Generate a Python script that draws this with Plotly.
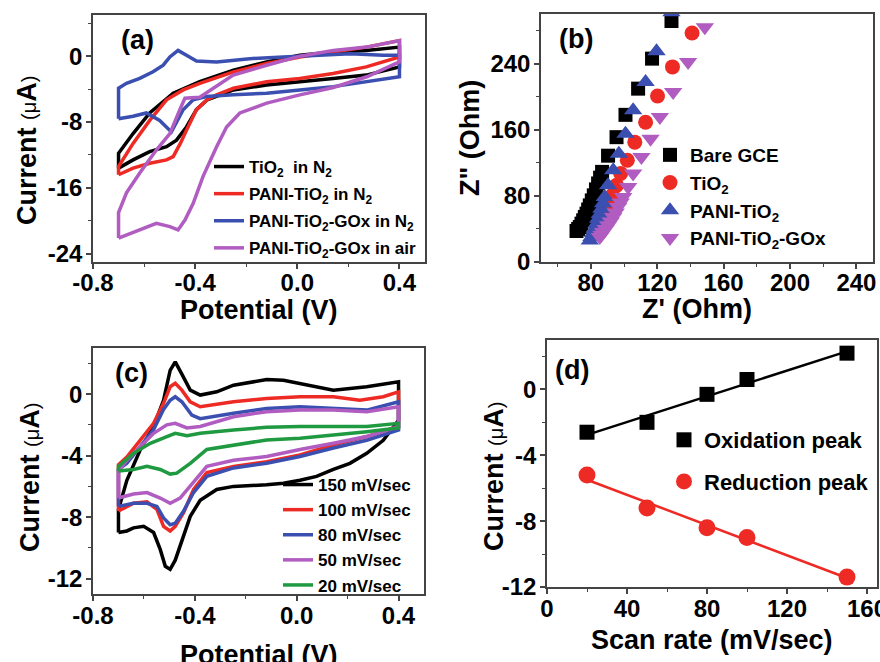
import plotly.graph_objects as go
import numpy as np

FONT = "Liberation Sans"
W, H = 880, 662

# ---------------- Panel (a): CV curves ----------------
a_names = ["TiO<sub>2</sub>  in N<sub>2</sub>", "PANI-TiO<sub>2</sub> in N<sub>2</sub>",
           "PANI-TiO<sub>2</sub>-GOx in N<sub>2</sub>", "PANI-TiO<sub>2</sub>-GOx in air"]
a_colors = ["#000000", "#ee2a24", "#3a4fb0", "#b05cc0"]

a_tio2_x = [-0.70, -0.70, -0.643, -0.578, -0.486, -0.382, -0.25, -0.12, 0.01, 0.14, 0.27, 0.40,
            0.40, 0.27, 0.14, 0.01, -0.12, -0.25, -0.353, -0.395, -0.434, -0.473, -0.512, -0.578, -0.643, -0.70]
a_tio2_y = [-13.6, -11.8, -9.4, -6.9, -4.5, -3.1, -1.7, -0.7, 0.1, 0.5, 0.7, 1.1,
            -1.3, -2.3, -2.7, -3.1, -3.5, -4.1, -5.3, -6.5, -8.6, -10.2, -11.0, -11.6, -12.6, -13.6]

a_pani_x = [-0.70, -0.70, -0.643, -0.578, -0.512, -0.447, -0.382, -0.25, -0.12, 0.01, 0.14, 0.27, 0.40,
            0.40, 0.27, 0.14, 0.01, -0.12, -0.25, -0.316, -0.353, -0.395, -0.434, -0.458, -0.486, -0.512, -0.578, -0.643, -0.70]
a_pani_y = [-14.4, -13.4, -10.6, -7.8, -5.3, -4.1, -3.3, -1.9, -0.9, -0.1, 0.5, 1.1, 1.9,
            -0.1, -1.3, -2.1, -2.7, -3.1, -3.9, -4.7, -5.3, -6.5, -9.0, -10.6, -12.2, -12.6, -13.0, -13.6, -14.4]

a_goxn2_x = [-0.70, -0.70, -0.669, -0.617, -0.565, -0.525, -0.499, -0.467, -0.434, -0.395, -0.316, -0.186, -0.055,
             0.076, 0.207, 0.337, 0.40, 0.40, 0.275, 0.141, 0.01, -0.12, -0.251, -0.356, -0.408, -0.447, -0.493,
             -0.539, -0.591, -0.643, -0.70]
a_goxn2_y = [-7.6, -3.9, -3.3, -2.7, -1.9, -1.1, -0.1, 0.7, 0.1, -0.6, -0.7, -0.3, -0.1,
             0.1, 0.3, 0.1, 0.1, -2.5, -3.1, -3.7, -4.1, -4.5, -4.7, -4.9, -5.3, -6.5, -9.2,
             -7.8, -6.9, -7.3, -7.6]

a_goxair_x = [-0.70, -0.70, -0.669, -0.617, -0.552, -0.499, -0.46, -0.44, -0.382, -0.316, -0.251, -0.12, 0.01,
              0.141, 0.272, 0.40, 0.40, 0.272, 0.141, 0.01, -0.12, -0.225, -0.277, -0.316, -0.369, -0.408,
              -0.44, -0.467, -0.499, -0.552, -0.617, -0.669, -0.70]
a_goxair_y = [-22.1, -19.0, -16.6, -14.2, -11.4, -9.4, -6.5, -5.1, -5.0, -3.7, -2.3, -1.1, 0.0,
              0.7, 1.1, 1.9, -0.7, -2.5, -3.8, -4.7, -5.7, -6.9, -8.6, -11.0, -14.6, -17.9,
              -19.9, -21.1, -20.7, -20.3, -21.1, -21.7, -22.1]

# ---------------- Panel (b): Nyquist ----------------
b_names = ["Bare GCE", "TiO<sub>2</sub>", "PANI-TiO<sub>2</sub>", "PANI-TiO<sub>2</sub>-GOx"]
b_colors = ["#000000", "#ee2a24", "#3a4fb0", "#b05cc0"]
b_symbols = ["square", "circle", "triangle-up", "triangle-down"]
b_bare_x = [71.4, 72.4, 73.4, 74.4, 75.4, 76.4, 77.4, 78.4, 79.4, 80.6, 81.8, 83.1, 84.4, 85.6, 86.8,
            90.4, 95.5, 100.9, 108.5, 116.9, 128.6]
b_bare_y = [37.5, 40, 42.3, 46.4, 50.4, 54.4, 58.5, 63.5, 68.5, 74.5, 80.6, 87.8, 95, 102, 109,
            128.6, 151, 178, 209.7, 246, 291.5]
b_tio2_x = [85.4, 86.6, 87.8, 89.0, 90.4, 91.7, 93.0, 95.5, 98.0, 102.0, 106.5, 113.0, 120.2, 129.2, 141.0]
b_tio2_y = [38, 44, 50, 57, 64, 71, 80.6, 92.7, 107, 123, 145, 169, 200.8, 236, 277]
b_pani_x = [79.4, 80.4, 81.4, 82.4, 83.4, 84.4, 85.4, 86.4, 87.4, 88.4, 90.4, 93.5, 96.9, 100.9, 105.5,
            113.0, 119.6, 128.6]
b_pani_y = [26, 30.2, 35, 40.3, 46, 52.4, 58, 64.5, 71, 78.6, 92.7, 111, 131, 155, 183.5,
            217.7, 255, 302]
b_gox_x = [85.4, 86.4, 87.4, 88.9, 90.4, 92.0, 93.5, 95.0, 96.5, 98.0, 99.5, 102.5, 105.5, 110.5, 116.0,
           121.6, 129.6, 138.6, 148.7]
b_gox_y = [30.2, 33, 36.3, 40, 44.4, 49, 54.4, 60, 66.5, 72, 78.6, 90.7, 107, 127, 149,
           175.4, 205.6, 242, 284]
b_sizes = [14, 15, 16, 16]

# ---------------- Panel (c): scan-rate CVs ----------------
c_names = ["150 mV/sec", "100 mV/sec", "80 mV/sec", "50 mV/sec", "20 mV/sec"]
c_colors = ["#000000", "#ee2a24", "#3a4fb0", "#b05cc0", "#1f9a40"]
c150_x = [-0.70, -0.70, -0.667, -0.614, -0.562, -0.523, -0.497, -0.477, -0.451, -0.418, -0.379, -0.314, -0.248,
          -0.118, -0.052, 0.013, 0.078, 0.144, 0.275, 0.40, 0.40, 0.34, 0.275, 0.209, 0.144, 0.078, 0.013,
          -0.052, -0.118, -0.248, -0.314, -0.379, -0.418, -0.451, -0.477, -0.497, -0.516, -0.536, -0.562,
          -0.601, -0.641, -0.667, -0.70]
c150_y = [-9.0, -7.5, -5.6, -3.6, -2.1, -0.4, 1.55, 2.1, 1.3, 0.26, -0.06, 0.15, 0.58,
          0.95, 0.9, 0.7, 0.48, 0.26, 0.48, 0.8, -1.7, -3.0, -3.85, -4.5, -4.9, -5.35, -5.6,
          -5.8, -5.9, -6.0, -6.2, -6.9, -7.95, -9.5, -10.8, -11.4, -11.2, -10.1, -9.0,
          -8.6, -8.7, -8.9, -9.0]
c100_x = [-0.70, -0.70, -0.667, -0.614, -0.562, -0.523, -0.497, -0.477, -0.451, -0.418, -0.379, -0.248, -0.118,
          0.013, 0.144, 0.248, 0.340, 0.40, 0.40, 0.275, 0.144, 0.013, -0.118, -0.248, -0.353, -0.405, -0.444,
          -0.477, -0.497, -0.523, -0.549, -0.588, -0.641, -0.70]
c100_y = [-7.6, -4.6, -4.1, -3.0, -1.9, -0.6, 0.48, 0.7, 0.26, -0.5, -0.82, -0.5, -0.28,
          -0.17, -0.17, -0.39, -0.17, 0.15, -2.1, -2.76, -3.3, -3.95, -4.4, -4.7, -5.1, -6.2, -7.7,
          -8.6, -8.9, -8.6, -7.5, -7.0, -7.1, -7.6]
c80_x = [-0.70, -0.70, -0.667, -0.614, -0.562, -0.523, -0.497, -0.477, -0.451, -0.412, -0.379, -0.248, -0.118,
         0.013, 0.144, 0.275, 0.40, 0.40, 0.275, 0.144, 0.013, -0.118, -0.248, -0.353, -0.405, -0.444,
         -0.477, -0.497, -0.523, -0.549, -0.588, -0.641, -0.70]
c80_y = [-7.3, -4.9, -4.5, -3.4, -2.3, -1.0, -0.4, -0.17, -0.5, -1.36, -1.6, -1.25, -0.93,
         -0.82, -0.93, -1.04, -0.5, -2.33, -3.0, -3.5, -4.06, -4.5, -4.8, -5.35, -6.4, -7.6,
         -8.4, -8.5, -8.05, -7.3, -7.1, -7.1, -7.3]
c50_x = [-0.70, -0.70, -0.667, -0.614, -0.562, -0.510, -0.477, -0.431, -0.379, -0.248, -0.118, 0.013, 0.144,
         0.275, 0.40, 0.40, 0.275, 0.144, 0.013, -0.118, -0.248, -0.353, -0.418, -0.458, -0.497, -0.536,
         -0.588, -0.641, -0.70]
c50_y = [-6.76, -5.0, -4.3, -3.4, -2.55, -2.0, -1.9, -2.2, -2.1, -1.47, -1.14, -1.04, -1.04,
         -1.14, -0.82, -2.1, -2.76, -3.2, -3.6, -4.06, -4.3, -4.7, -6.0, -6.76, -7.1, -6.76,
         -6.4, -6.5, -6.76]
c20_x = [-0.70, -0.70, -0.641, -0.575, -0.510, -0.477, -0.431, -0.379, -0.248, -0.118, 0.013, 0.144, 0.275,
         0.40, 0.40, 0.275, 0.144, 0.013, -0.118, -0.248, -0.353, -0.418, -0.471, -0.497, -0.536, -0.588,
         -0.641, -0.70]
c20_y = [-5.0, -4.7, -3.85, -3.2, -2.76, -2.55, -2.7, -2.55, -2.33, -2.16, -2.1, -2.1, -2.1,
         -1.9, -2.2, -2.44, -2.66, -2.87, -2.98, -3.3, -3.6, -4.5, -5.14, -5.2, -4.9, -4.7,
         -4.9, -5.0]

# ---------------- Panel (d): peak current vs scan rate ----------------
d_scan = [20, 50, 80, 100, 150]
d_ox = [-2.6, -2.0, -0.3, 0.6, 2.2]
d_red = [-5.2, -7.2, -8.4, -9.0, -11.4]

fig = go.Figure()

for i, (xs, ys) in enumerate([(a_tio2_x, a_tio2_y), (a_pani_x, a_pani_y),
                              (a_goxn2_x, a_goxn2_y), (a_goxair_x, a_goxair_y)]):
    fig.add_trace(go.Scatter(x=xs, y=ys, mode="lines", name=a_names[i],
                             line=dict(color=a_colors[i], width=3.5),
                             xaxis="x", yaxis="y", legend="legend", legendgroup="a%d" % i))
for i, (xs, ys) in enumerate([(b_bare_x, b_bare_y), (b_tio2_x, b_tio2_y),
                              (b_pani_x, b_pani_y), (b_gox_x, b_gox_y)]):
    fig.add_trace(go.Scatter(x=xs, y=ys, mode="markers", name=b_names[i],
                             marker=dict(color=b_colors[i], symbol=b_symbols[i], size=b_sizes[i],
                                         line=dict(width=0)),
                             xaxis="x2", yaxis="y2", legend="legend2", legendgroup="b%d" % i))
for i, (xs, ys) in enumerate([(c150_x, c150_y), (c100_x, c100_y), (c80_x, c80_y),
                              (c50_x, c50_y), (c20_x, c20_y)]):
    fig.add_trace(go.Scatter(x=xs, y=ys, mode="lines", name=c_names[i],
                             line=dict(color=c_colors[i], width=3.5),
                             xaxis="x3", yaxis="y3", legend="legend3", legendgroup="c%d" % i))
for ys, col, sym, sz, nm in [(d_ox, "#000000", "square", 15, "Oxidation peak"),
                             (d_red, "#ee2a24", "circle", 17, "Reduction peak")]:
    k, b0 = np.polyfit(d_scan, ys, 1)
    xf = [d_scan[0], d_scan[-1]]
    fig.add_trace(go.Scatter(x=xf, y=[k * v + b0 for v in xf], mode="lines",
                             line=dict(color=col, width=2.5), showlegend=False,
                             xaxis="x4", yaxis="y4", legend="legend4"))
    fig.add_trace(go.Scatter(x=d_scan, y=ys, mode="markers", name=nm,
                             marker=dict(color=col, symbol=sym, size=sz, line=dict(width=0)),
                             xaxis="x4", yaxis="y4", legend="legend4", legendgroup=nm))

tickfont = dict(family=FONT, size=24, color="black", weight="bold")


def ax(domain, rng, tv, tt, minor_vals, anchor, standoff):
    return dict(domain=domain, range=rng, tickmode="array", tickvals=tv, ticktext=tt,
                showline=True, linecolor="#444", linewidth=1.5, mirror=True,
                ticks="outside", ticklen=5, tickwidth=1.5, tickcolor="#444",
                showgrid=False, zeroline=False, tickfont=tickfont, anchor=anchor,
                automargin=False, ticklabelstandoff=standoff, ticklabeloverflow="allow",
                minor=dict(tickmode="array", tickvals=minor_vals, ticks="outside",
                           ticklen=3, tickwidth=1.2, tickcolor="#444", showgrid=False))


def px(v):
    return v / W


def py(v):
    return 1 - v / H


cv_xt = [-0.8, -0.4, 0.0, 0.4]
cv_xl = ["-0.8", "-0.4", "0.0", "0.4"]
cv_xm = [-0.6, -0.2, 0.2]


def lf(size):
    return dict(family=FONT, size=size, color="black", weight="bold")


fig.update_layout(
    width=W, height=H, margin=dict(l=0, r=0, t=0, b=0, autoexpand=False),
    paper_bgcolor="white", plot_bgcolor="white",
    xaxis=ax([px(93), px(425)], [-0.8, 0.5], cv_xt, cv_xl, cv_xm, "y", -7),
    yaxis=ax([py(262), py(15)], [-25, 5], [0, -8, -16, -24], ["0", "-8", "-16", "-24"],
             [4, -4, -12, -20], "x", -1),
    xaxis2=ax([px(541), px(873)], [50, 250], [80, 120, 160, 200, 240],
              ["80", "120", "160", "200", "240"], [60, 100, 140, 180, 220], "y2", -7),
    yaxis2=ax([py(262), py(14)], [0, 300], [0, 80, 160, 240], ["0", "80", "160", "240"],
              [40, 120, 200, 280], "x2", -1),
    xaxis3=ax([px(93), px(424)], [-0.8, 0.5], cv_xt, cv_xl, cv_xm, "y3", -6),
    yaxis3=ax([py(594), py(348)], [-13, 3], [0, -4, -8, -12], ["0", "-4", "-8", "-12"],
              [2, -2, -6, -10], "x3", -1),
    xaxis4=ax([px(547), px(877)], [0, 165], [0, 40, 80, 120, 160],
              ["0", "40", "80", "120", "160"], [20, 60, 100, 140], "y4", -6),
    yaxis4=ax([py(587), py(340)], [-12, 3], [0, -4, -8, -12], ["0", "-4", "-8", "-12"],
              [2, -2, -6, -10], "x4", -1),
    legend=dict(x=px(209), y=py(149), xanchor="left", yanchor="top", font=lf(17),
                bgcolor="rgba(0,0,0,0)", itemwidth=30, tracegroupgap=2, traceorder="grouped"),
    legend2=dict(x=px(650), y=py(136), xanchor="left", yanchor="top", font=lf(19),
                 bgcolor="rgba(0,0,0,0)", itemwidth=30, tracegroupgap=0, traceorder="grouped"),
    legend3=dict(x=px(278), y=py(467), xanchor="left", yanchor="top", font=lf(17),
                 bgcolor="rgba(0,0,0,0)", itemwidth=30, tracegroupgap=0, traceorder="grouped"),
    legend4=dict(x=px(664), y=py(419), xanchor="left", yanchor="top", font=lf(22),
                 bgcolor="rgba(0,0,0,0)", itemwidth=30, tracegroupgap=10, traceorder="grouped"),
    showlegend=True,
)

ylab = "<b>Current</b> <span style='font-size:20px'>(μ</span><b>A</b><span style='font-size:20px'>)</span>"
title_font = dict(family=FONT, size=27, color="black")
annots = [
    dict(x=px(137), y=py(40), text="<b>(a)</b>"),
    dict(x=px(576), y=py(39), text="<b>(b)</b>"),
    dict(x=px(131), y=py(373), text="<b>(c)</b>"),
    dict(x=px(572), y=py(370), text="<b>(d)</b>"),
    dict(x=px(259), y=py(310), text="<b>Potential (V)</b>"),
    dict(x=px(259), y=py(655), text="<b>Potential (V)</b>"),
    dict(x=px(697), y=py(309), text="<b>Z' (Ohm)</b>"),
    dict(x=px(712), y=py(640), text="<b>Scan rate (mV/sec)</b>"),
    dict(x=px(27), y=py(151), text=ylab, textangle=-90),
    dict(x=px(30), y=py(478), text=ylab, textangle=-90),
    dict(x=px(470), y=py(138), text="<b>Z\" (Ohm)</b>", textangle=-90),
    dict(x=px(494), y=py(477), text=ylab, textangle=-90),
]
for a in annots:
    a.update(xref="paper", yref="paper", showarrow=False, font=title_font,
             xanchor="center", yanchor="middle")
fig.update_layout(annotations=annots)

fig.write_html("out.html")
